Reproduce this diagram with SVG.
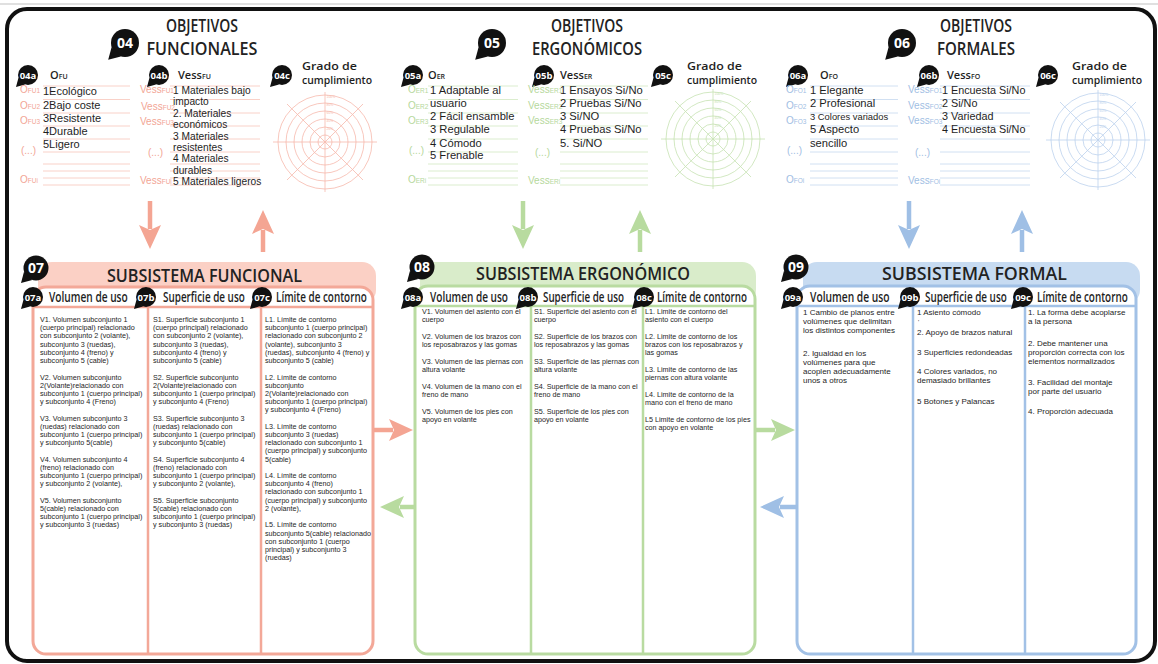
<svg xmlns="http://www.w3.org/2000/svg" width="1158" height="664" viewBox="0 0 1158 664">
<style>
.b{font-family:'Liberation Sans',Arial,sans-serif;fill:#1e1e1e}
.h{font-family:'Open Sans','Liberation Sans',sans-serif;fill:#1e1e1e}
.ti{font-family:'Open Sans','Liberation Sans',sans-serif;font-weight:600;font-size:18px;fill:#222;text-anchor:middle}
.st{font-family:'Open Sans','Liberation Sans',sans-serif;font-weight:600;font-size:18.5px;fill:#222;text-anchor:middle}
.ch{font-family:'Open Sans','Liberation Sans',sans-serif;font-weight:600;font-size:13.5px;fill:#1e1e1e}
.bt{font-family:'Open Sans','Liberation Sans',sans-serif;font-weight:700;fill:#fff;text-anchor:middle}
.sm{font-size:9.5px}
.lg{font-size:14px}
.it{font-size:11.2px}
.c7{font-size:7.2px}
.c8{font-size:8px}
.cp{fill:#f2a595}.cg{fill:#b5d89c}.cb{fill:#9fbee3}
.lp{stroke:#f7c5ba;stroke-width:0.8;fill:none}
.lgr{stroke:#d2e8c2;stroke-width:0.8;fill:none}
.lb{stroke:#c5d8ef;stroke-width:0.8;fill:none}
.lab{font-family:'Liberation Sans',Arial,sans-serif;font-size:10px}
.gr{font-family:'Open Sans','Liberation Sans',sans-serif;font-weight:600;font-size:11.5px;fill:#1e1e1e}
.pct{font-family:'Liberation Sans',Arial,sans-serif;font-size:3.4px}
</style>
<defs>
<g id="bub" fill="#111"><circle r="10"/><path d="M-9.6,3 L-12,12 L-3,9.6 Z"/></g>
<g id="radar" fill="none" stroke="currentColor" stroke-width="0.8">
<circle r="47"/><circle r="39"/><circle r="31"/><circle r="23"/><circle r="15"/><circle r="7"/>
<path d="M-52,0H52M0,-50V50M-38,38L38,-38M-38,-38L38,38"/>
<g stroke="none" fill="currentColor" class="pct"><text x="1.5" y="-44">100%</text><text x="1.5" y="-36">80%</text><text x="1.5" y="-28">60%</text><text x="1.5" y="-20">40%</text><text x="1.5" y="-12">20%</text></g>
</g>
<marker id="ap" markerUnits="userSpaceOnUse" markerWidth="24" markerHeight="22" viewBox="0 0 24 22" refX="4" refY="11" orient="auto"><path d="M0,0L24,11L0,22L5,11Z" fill="#f4a593"/></marker>
<marker id="ag" markerUnits="userSpaceOnUse" markerWidth="24" markerHeight="22" viewBox="0 0 24 22" refX="4" refY="11" orient="auto"><path d="M0,0L24,11L0,22L5,11Z" fill="#b8db9f"/></marker>
<marker id="ab" markerUnits="userSpaceOnUse" markerWidth="24" markerHeight="22" viewBox="0 0 24 22" refX="4" refY="11" orient="auto"><path d="M0,0L24,11L0,22L5,11Z" fill="#9fbfe5"/></marker>
</defs>
<rect width="1158" height="664" fill="#fff"/>
<line x1="0" y1="4" x2="1158" y2="4" stroke="#d6d6d6" stroke-width="1.5"/>
<rect id="frame" x="7" y="9" width="1148" height="652" rx="20" fill="none" stroke="#111" stroke-width="4"/>

<!-- OBJETIVOS FUNCIONALES -->
<g id="obj-funcionales">
<use href="#bub" transform="translate(125,43) scale(1.4)"/>
<text class="bt lg" x="125" y="48">04</text>
<text class="ti" x="202" y="32" textLength="72" lengthAdjust="spacingAndGlyphs">OBJETIVOS</text>
<text class="ti" x="202" y="55" textLength="111" lengthAdjust="spacingAndGlyphs">FUNCIONALES</text>
<use href="#bub" transform="translate(28,75)"/><text class="bt sm" x="28" y="78.5">04a</text>
<text class="h" x="50" y="79" font-size="11" font-weight="600">O<tspan font-size="7">FU</tspan></text>
<use href="#bub" transform="translate(159,75)"/><text class="bt sm" x="159" y="78.5">04b</text>
<text class="h" x="178" y="79" font-size="11" font-weight="600">Vess<tspan font-size="7">FU</tspan></text>
<use href="#bub" transform="translate(282,75)"/><text class="bt sm" x="282" y="78.5">04c</text>
<text class="gr" x="302" y="70" textLength="55" lengthAdjust="spacingAndGlyphs">Grado de</text>
<text class="gr" x="302" y="84" textLength="70" lengthAdjust="spacingAndGlyphs">cumplimiento</text>
<path class="lp" d="M43,86H130M43,99.5H130M43,113H130M43,126H130M43,139H130M43,152H130M43,164H130M43,171H130M43,178H130M43,185H130"/>
<path class="lp" d="M170,86H260M170,99.5H260M170,113H260M170,126H260M170,139H260M170,152H260M170,164H260M170,171H260M170,178H260M170,185H260"/>
<g class="lab cp">
<text x="20" y="93">O<tspan font-size="6.5">FU1</tspan></text>
<text x="20" y="109">O<tspan font-size="6.5">FU2</tspan></text>
<text x="20" y="124">O<tspan font-size="6.5">FU3</tspan></text>
<text x="21" y="154">(...)</text>
<text x="20" y="183">O<tspan font-size="6.5">FUi</tspan></text>
<text x="140" y="93">Vess<tspan font-size="6.5">FU1</tspan></text>
<text x="141" y="110">Vess<tspan font-size="6.5">FU2</tspan></text>
<text x="140" y="125">Vess<tspan font-size="6.5">FU3</tspan></text>
<text x="148" y="156">(...)</text>
<text x="140" y="184">Vess<tspan font-size="6.5">FUi</tspan></text>
</g>
<text class="b" font-size="11"><tspan x="43" y="95">1Ecológico</tspan><tspan x="43" y="108.5">2Bajo coste</tspan><tspan x="43" y="121.5">3Resistente</tspan><tspan x="43" y="135">4Durable</tspan><tspan x="43" y="148">5Ligero</tspan></text>
<text class="b" font-size="10.2"><tspan x="173" y="94">1 Materiales bajo</tspan><tspan x="173" y="105.4">impacto</tspan><tspan x="173" y="116.8">2. Materiales</tspan><tspan x="173" y="128.2">económicos</tspan><tspan x="173" y="139.6">3 Materiales</tspan><tspan x="173" y="151">resistentes</tspan><tspan x="173" y="162.4">4 Materiales</tspan><tspan x="173" y="173.8">durables</tspan><tspan x="173" y="185.2">5 Materiales ligeros</tspan></text>
<use href="#radar" transform="translate(325,142)" color="#f6b9ac"/>
</g>

<!-- OBJETIVOS ERGONOMICOS -->
<g id="obj-ergonomicos">
<use href="#bub" transform="translate(492,43) scale(1.4)"/>
<text class="bt lg" x="492" y="48">05</text>
<text class="ti" x="587" y="32" textLength="72" lengthAdjust="spacingAndGlyphs">OBJETIVOS</text>
<text class="ti" x="587" y="55" textLength="110" lengthAdjust="spacingAndGlyphs">ERGONÓMICOS</text>
<use href="#bub" transform="translate(413,75)"/><text class="bt sm" x="413" y="78.5">05a</text>
<text class="h" x="428" y="79" font-size="11" font-weight="600">O<tspan font-size="7">ER</tspan></text>
<use href="#bub" transform="translate(544,75)"/><text class="bt sm" x="544" y="78.5">05b</text>
<text class="h" x="560" y="79" font-size="11" font-weight="600">Vess<tspan font-size="7">ER</tspan></text>
<use href="#bub" transform="translate(663,75)"/><text class="bt sm" x="663" y="78.5">05c</text>
<text class="gr" x="687" y="70" textLength="55" lengthAdjust="spacingAndGlyphs">Grado de</text>
<text class="gr" x="687" y="84" textLength="70" lengthAdjust="spacingAndGlyphs">cumplimiento</text>
<path class="lgr" d="M428,86H518M428,99.5H518M428,113H518M428,126H518M428,139H518M428,152H518M428,164H518M428,171H518M428,178H518M428,185H518"/>
<path class="lgr" d="M560,86H648M560,99.5H648M560,113H648M560,126H648M560,139H648M560,152H648M560,164H648M560,171H648M560,178H648M560,185H648"/>
<g class="lab cg">
<text x="408" y="93">O<tspan font-size="6.5">ER1</tspan></text>
<text x="408" y="109">O<tspan font-size="6.5">ER2</tspan></text>
<text x="408" y="124">O<tspan font-size="6.5">ER3</tspan></text>
<text x="409" y="154">(...)</text>
<text x="408" y="183">O<tspan font-size="6.5">ERi</tspan></text>
<text x="528" y="93">Vess<tspan font-size="6.5">ER1</tspan></text>
<text x="528" y="109">Vess<tspan font-size="6.5">ER2</tspan></text>
<text x="528" y="124">Vess<tspan font-size="6.5">ER3</tspan></text>
<text x="535" y="156">(...)</text>
<text x="528" y="184">Vess<tspan font-size="6.5">ERi</tspan></text>
</g>
<text class="b it"><tspan x="430" y="94">1 Adaptable al</tspan><tspan x="430" y="107">usuario</tspan><tspan x="430" y="120">2 Fácil ensamble</tspan><tspan x="430" y="133">3 Regulable</tspan><tspan x="430" y="146.5">4 Cómodo</tspan><tspan x="430" y="159">5 Frenable</tspan></text>
<text class="b it"><tspan x="560" y="94">1 Ensayos Si/No</tspan><tspan x="560" y="107">2 Pruebas Si/No</tspan><tspan x="560" y="120">3 Si/NO</tspan><tspan x="560" y="133">4 Pruebas Si/No</tspan><tspan x="560" y="146.5">5. Si/NO</tspan></text>
<use href="#radar" transform="translate(713,139)" color="#c6e2b2"/>
</g>

<!-- OBJETIVOS FORMALES -->
<g id="obj-formales">
<use href="#bub" transform="translate(902,43) scale(1.4)"/>
<text class="bt lg" x="902" y="48">06</text>
<text class="ti" x="976" y="32" textLength="72" lengthAdjust="spacingAndGlyphs">OBJETIVOS</text>
<text class="ti" x="976" y="55" textLength="78" lengthAdjust="spacingAndGlyphs">FORMALES</text>
<use href="#bub" transform="translate(798,75)"/><text class="bt sm" x="798" y="78.5">06a</text>
<text class="h" x="820" y="79" font-size="11" font-weight="600">O<tspan font-size="7">FO</tspan></text>
<use href="#bub" transform="translate(929,75)"/><text class="bt sm" x="929" y="78.5">06b</text>
<text class="h" x="947" y="79" font-size="11" font-weight="600">Vess<tspan font-size="7">FO</tspan></text>
<use href="#bub" transform="translate(1048,75)"/><text class="bt sm" x="1048" y="78.5">06c</text>
<text class="gr" x="1072" y="70" textLength="55" lengthAdjust="spacingAndGlyphs">Grado de</text>
<text class="gr" x="1072" y="84" textLength="70" lengthAdjust="spacingAndGlyphs">cumplimiento</text>
<path class="lb" d="M810,86H898M810,99.5H898M810,113H898M810,126H898M810,139H898M810,152H898M810,164H898M810,171H898M810,178H898M810,185H898"/>
<path class="lb" d="M940,86H1030M940,99.5H1030M940,113H1030M940,126H1030M940,139H1030M940,152H1030M940,164H1030M940,171H1030M940,178H1030M940,185H1030"/>
<g class="lab cb">
<text x="786" y="93">O<tspan font-size="6.5">FO1</tspan></text>
<text x="786" y="109">O<tspan font-size="6.5">FO2</tspan></text>
<text x="786" y="124">O<tspan font-size="6.5">FO3</tspan></text>
<text x="787" y="154">(...)</text>
<text x="786" y="183">O<tspan font-size="6.5">FOi</tspan></text>
<text x="908" y="93">Vess<tspan font-size="6.5">FO1</tspan></text>
<text x="908" y="109">Vess<tspan font-size="6.5">FO2</tspan></text>
<text x="908" y="124">Vess<tspan font-size="6.5">FO3</tspan></text>
<text x="915" y="156">(...)</text>
<text x="908" y="184">Vess<tspan font-size="6.5">FOi</tspan></text>
</g>
<text class="b it"><tspan x="810" y="94">1 Elegante</tspan><tspan x="810" y="107">2 Profesional</tspan><tspan x="810" y="120" font-size="9.4">3 Colores variados</tspan><tspan x="810" y="133">5 Aspecto</tspan><tspan x="810" y="146.5">sencillo</tspan></text>
<text class="b" font-size="10.8"><tspan x="942" y="94">1 Encuesta Si/No</tspan><tspan x="942" y="107">2 Si/No</tspan><tspan x="942" y="120">3 Variedad</tspan><tspan x="942" y="133">4 Encuesta Si/No</tspan></text>
<use href="#radar" transform="translate(1098,140)" color="#bcd2ee"/>
</g>

<!-- SUBSISTEMA FUNCIONAL -->
<g id="sub-funcional">
<rect x="38" y="262" width="338" height="42" rx="14" fill="#fbd0c5"/>
<rect x="33" y="287" width="340" height="367" rx="13" fill="#fff" stroke="#f3a898" stroke-width="3"/>
<path d="M33,307H373M148,287V654M261,287V654" stroke="#f3a898" stroke-width="2.5" fill="none"/>
<use href="#bub" transform="translate(36,268) scale(1.25)"/><text class="bt lg" x="36" y="273">07</text>
<text class="st" x="204.5" y="282" textLength="195" lengthAdjust="spacingAndGlyphs">SUBSISTEMA FUNCIONAL</text>
<use href="#bub" transform="translate(33,297)"/><text class="bt sm" x="33" y="300.5">07a</text>
<use href="#bub" transform="translate(146,297)"/><text class="bt sm" x="146" y="300.5">07b</text>
<use href="#bub" transform="translate(262,297)"/><text class="bt sm" x="262" y="300.5">07c</text>
<text class="ch" transform="translate(49,302) scale(0.75,1)" textLength="105" lengthAdjust="spacingAndGlyphs">Volumen de uso</text>
<text class="ch" transform="translate(163,302) scale(0.75,1)" textLength="109" lengthAdjust="spacingAndGlyphs">Superficie de uso</text>
<text class="ch" transform="translate(276,302) scale(0.75,1)" textLength="121" lengthAdjust="spacingAndGlyphs">Límite de contorno</text>
<text class="b c7"><tspan x="40" y="322">V1. Volumen subconjunto 1</tspan><tspan x="40" dy="8.2">(cuerpo principal) relacionado</tspan><tspan x="40" dy="8.2">con subconjunto 2 (volante),</tspan><tspan x="40" dy="8.2">subconjunto 3 (ruedas),</tspan><tspan x="40" dy="8.2">subconjunto 4 (freno) y</tspan><tspan x="40" dy="8.2">subconjunto 5 (cable)</tspan><tspan x="40" dy="16.5">V2. Volumen subconjunto</tspan><tspan x="40" dy="8.2">2(Volante)relacionado con</tspan><tspan x="40" dy="8.2">subconjunto 1 (cuerpo principal)</tspan><tspan x="40" dy="8.2">y subconjunto 4 (Freno)</tspan><tspan x="40" dy="16.5">V3. Volumen subconjunto 3</tspan><tspan x="40" dy="8.2">(ruedas) relacionado con</tspan><tspan x="40" dy="8.2">subconjunto 1 (cuerpo principal)</tspan><tspan x="40" dy="8.2">y subconjunto 5(cable)</tspan><tspan x="40" dy="16.5">V4. Volumen subconjunto 4</tspan><tspan x="40" dy="8.2">(freno) relacionado con</tspan><tspan x="40" dy="8.2">subconjunto 1 (cuerpo principal)</tspan><tspan x="40" dy="8.2">y subconjunto 2 (volante),</tspan><tspan x="40" dy="16.5">V5. Volumen subconjunto</tspan><tspan x="40" dy="8.2">5(cable) relacionado con</tspan><tspan x="40" dy="8.2">subconjunto 1 (cuerpo principal)</tspan><tspan x="40" dy="8.2">y subconjunto 3 (ruedas)</tspan></text>
<text class="b c7"><tspan x="153" y="322">S1. Superficie subconjunto 1</tspan><tspan x="153" dy="8.2">(cuerpo principal) relacionado</tspan><tspan x="153" dy="8.2">con subconjunto 2 (volante),</tspan><tspan x="153" dy="8.2">subconjunto 3 (ruedas),</tspan><tspan x="153" dy="8.2">subconjunto 4 (freno) y</tspan><tspan x="153" dy="8.2">subconjunto 5 (cable)</tspan><tspan x="153" dy="16.5">S2. Superficie subconjunto</tspan><tspan x="153" dy="8.2">2(Volante)relacionado con</tspan><tspan x="153" dy="8.2">subconjunto 1 (cuerpo principal)</tspan><tspan x="153" dy="8.2">y subconjunto 4 (Freno)</tspan><tspan x="153" dy="16.5">S3. Superficie subconjunto 3</tspan><tspan x="153" dy="8.2">(ruedas) relacionado con</tspan><tspan x="153" dy="8.2">subconjunto 1 (cuerpo principal)</tspan><tspan x="153" dy="8.2">y subconjunto 5(cable)</tspan><tspan x="153" dy="16.5">S4. Superficie subconjunto 4</tspan><tspan x="153" dy="8.2">(freno) relacionado con</tspan><tspan x="153" dy="8.2">subconjunto 1 (cuerpo principal)</tspan><tspan x="153" dy="8.2">y subconjunto 2 (volante),</tspan><tspan x="153" dy="16.5">S5. Superficie subconjunto</tspan><tspan x="153" dy="8.2">5(cable) relacionado con</tspan><tspan x="153" dy="8.2">subconjunto 1 (cuerpo principal)</tspan><tspan x="153" dy="8.2">y subconjunto 3 (ruedas)</tspan></text>
<text class="b c7"><tspan x="265" y="322">L1. Límite de contorno</tspan><tspan x="265" dy="8.2">subconjunto 1 (cuerpo principal)</tspan><tspan x="265" dy="8.2">relacionado con subconjunto 2</tspan><tspan x="265" dy="8.2">(volante), subconjunto 3</tspan><tspan x="265" dy="8.2">(ruedas), subconjunto 4 (freno) y</tspan><tspan x="265" dy="8.2">subconjunto 5 (cable)</tspan><tspan x="265" dy="16.5">L2. Límite de contorno</tspan><tspan x="265" dy="8.2">subconjunto</tspan><tspan x="265" dy="8.2">2(Volante)relacionado con</tspan><tspan x="265" dy="8.2">subconjunto 1 (cuerpo principal)</tspan><tspan x="265" dy="8.2">y subconjunto 4 (Freno)</tspan><tspan x="265" dy="16.5">L3. Límite de contorno</tspan><tspan x="265" dy="8.2">subconjunto 3 (ruedas)</tspan><tspan x="265" dy="8.2">relacionado con subconjunto 1</tspan><tspan x="265" dy="8.2">(cuerpo principal) y subconjunto</tspan><tspan x="265" dy="8.2">5(cable)</tspan><tspan x="265" dy="16.5">L4. Límite de contorno</tspan><tspan x="265" dy="8.2">subconjunto 4 (freno)</tspan><tspan x="265" dy="8.2">relacionado con subconjunto 1</tspan><tspan x="265" dy="8.2">(cuerpo principal) y subconjunto</tspan><tspan x="265" dy="8.2">2 (volante),</tspan><tspan x="265" dy="16.5">L5. Límite de contorno</tspan><tspan x="265" dy="8.2">subconjunto 5(cable) relacionado</tspan><tspan x="265" dy="8.2">con subconjunto 1 (cuerpo</tspan><tspan x="265" dy="8.2">principal) y subconjunto 3</tspan><tspan x="265" dy="8.2">(ruedas)</tspan></text>
</g>

<!-- SUBSISTEMA ERGONOMICO -->
<g id="sub-ergonomico">
<rect x="420" y="262" width="336" height="42" rx="14" fill="#d9ecca"/>
<rect x="415" y="286" width="340" height="368" rx="13" fill="#fff" stroke="#b9dba1" stroke-width="3"/>
<path d="M415,306H755M531,286V654M643,286V654" stroke="#b9dba1" stroke-width="2.5" fill="none"/>
<use href="#bub" transform="translate(422,267) scale(1.25)"/><text class="bt lg" x="422" y="272">08</text>
<text class="st" x="583" y="280" textLength="214" lengthAdjust="spacingAndGlyphs">SUBSISTEMA ERGONÓMICO</text>
<use href="#bub" transform="translate(413,297)"/><text class="bt sm" x="413" y="300.5">08a</text>
<use href="#bub" transform="translate(528,297)"/><text class="bt sm" x="528" y="300.5">08b</text>
<use href="#bub" transform="translate(644,297)"/><text class="bt sm" x="644" y="300.5">08c</text>
<text class="ch" transform="translate(430,302) scale(0.75,1)" textLength="104" lengthAdjust="spacingAndGlyphs">Volumen de uso</text>
<text class="ch" transform="translate(543,302) scale(0.75,1)" textLength="108" lengthAdjust="spacingAndGlyphs">Superficie de uso</text>
<text class="ch" transform="translate(657,302) scale(0.75,1)" textLength="120" lengthAdjust="spacingAndGlyphs">Límite de contorno</text>
<text class="b c7"><tspan x="422" y="313.5">V1. Volumen del asiento con el</tspan><tspan x="422" dy="8.3">cuerpo</tspan><tspan x="422" dy="16.7">V2. Volumen de los brazos con</tspan><tspan x="422" dy="8.3">los reposabrazos y las gomas</tspan><tspan x="422" dy="16.7">V3. Volumen de las piernas con</tspan><tspan x="422" dy="8.3">altura volante</tspan><tspan x="422" dy="16.7">V4. Volumen de la mano con el</tspan><tspan x="422" dy="8.3">freno de mano</tspan><tspan x="422" dy="16.7">V5. Volumen de los pies con</tspan><tspan x="422" dy="8.3">apoyo en volante</tspan></text>
<text class="b c7"><tspan x="534" y="313.5">S1. Superficie del asiento con el</tspan><tspan x="534" dy="8.3">cuerpo</tspan><tspan x="534" dy="16.7">S2. Superficie de los brazos con</tspan><tspan x="534" dy="8.3">los reposabrazos y las gomas</tspan><tspan x="534" dy="16.7">S3. Superficie de las piernas con</tspan><tspan x="534" dy="8.3">altura volante</tspan><tspan x="534" dy="16.7">S4. Superficie de la mano con el</tspan><tspan x="534" dy="8.3">freno de mano</tspan><tspan x="534" dy="16.7">S5. Superficie de los pies con</tspan><tspan x="534" dy="8.3">apoyo en volante</tspan></text>
<text class="b c7"><tspan x="645" y="313.5">L1. Limite de contorno del</tspan><tspan x="645" dy="8.3">asiento con el cuerpo</tspan><tspan x="645" dy="16.7">L2. Limite de contorno de los</tspan><tspan x="645" dy="8.3">brazos con los reposabrazos y</tspan><tspan x="645" dy="8.3">las gomas</tspan><tspan x="645" dy="16.7">L3. Limite de contorno de las</tspan><tspan x="645" dy="8.3">piernas con altura volante</tspan><tspan x="645" dy="16.7">L4. Limite de contorno de la</tspan><tspan x="645" dy="8.3">mano con el freno de mano</tspan><tspan x="645" dy="16.7">L5 Limite de contorno de los pies</tspan><tspan x="645" dy="8.3">con apoyo en volante</tspan></text>
</g>

<!-- SUBSISTEMA FORMAL -->
<g id="sub-formal">
<rect x="803" y="262" width="337" height="42" rx="14" fill="#c7dbf1"/>
<rect x="797" y="286" width="339" height="368" rx="13" fill="#fff" stroke="#a2c1e6" stroke-width="3"/>
<path d="M797,306H1136M913,286V654M1025,286V654" stroke="#a2c1e6" stroke-width="2.5" fill="none"/>
<use href="#bub" transform="translate(796,267) scale(1.25)"/><text class="bt lg" x="796" y="272">09</text>
<text class="st" x="974.5" y="280" textLength="185" lengthAdjust="spacingAndGlyphs">SUBSISTEMA FORMAL</text>
<use href="#bub" transform="translate(793,297)"/><text class="bt sm" x="793" y="300.5">09a</text>
<use href="#bub" transform="translate(910,297)"/><text class="bt sm" x="910" y="300.5">09b</text>
<use href="#bub" transform="translate(1023,297)"/><text class="bt sm" x="1023" y="300.5">09c</text>
<text class="ch" transform="translate(810,302) scale(0.75,1)" textLength="106" lengthAdjust="spacingAndGlyphs">Volumen de uso</text>
<text class="ch" transform="translate(925,302) scale(0.75,1)" textLength="109" lengthAdjust="spacingAndGlyphs">Superficie de uso</text>
<text class="ch" transform="translate(1037,302) scale(0.75,1)" textLength="121" lengthAdjust="spacingAndGlyphs">Límite de contorno</text>
<text class="b c8"><tspan x="803" y="315">1 Cambio de planos entre</tspan><tspan x="803" dy="9.1">volúmenes que delimitan</tspan><tspan x="803" dy="9.1">los distintos componentes</tspan><tspan x="803" dy="22.8">2. Igualdad en los</tspan><tspan x="803" dy="9.1">volúmenes para que</tspan><tspan x="803" dy="9.1">acoplen adecuadamente</tspan><tspan x="803" dy="9.1">unos a otros</tspan></text>
<text class="b c8"><tspan x="917" y="315">1 Asiento cómodo</tspan><tspan x="917" y="335">2. Apoyo de brazos natural</tspan><tspan x="917" y="355">3 Superficies redondeadas</tspan><tspan x="917" y="374">4 Colores variados, no</tspan><tspan x="917" y="383.1">demasiado brillantes</tspan><tspan x="917" y="404">5 Botones y Palancas</tspan></text>
<text class="b" x="918" y="324" font-size="6">'</text>
<text class="b c8"><tspan x="1028" y="315">1. La forma debe acoplarse</tspan><tspan x="1028" dy="9.1">a la persona</tspan><tspan x="1028" y="346">2. Debe mantener una</tspan><tspan x="1028" dy="9.1">proporción correcta con los</tspan><tspan x="1028" dy="9.1">elementos normalizados</tspan><tspan x="1028" y="385">3. Facilidad del montaje</tspan><tspan x="1028" dy="9.1">por parte del usuario</tspan><tspan x="1028" y="414">4. Proporción adecuada</tspan></text>
</g>

<!-- CONNECTORS -->
<g id="connectors" fill="none" stroke-width="4.5">
<line x1="150" y1="201" x2="150" y2="229" stroke="#f4a593" marker-end="url(#ap)"/>
<line x1="263" y1="252" x2="263" y2="230" stroke="#f4a593" marker-end="url(#ap)"/>
<line x1="523" y1="201" x2="523" y2="229" stroke="#b8db9f" marker-end="url(#ag)"/>
<line x1="640" y1="252" x2="640" y2="230" stroke="#b8db9f" marker-end="url(#ag)"/>
<line x1="909" y1="201" x2="909" y2="229" stroke="#9fbfe5" marker-end="url(#ab)"/>
<line x1="1022" y1="252" x2="1022" y2="230" stroke="#9fbfe5" marker-end="url(#ab)"/>
<line x1="374" y1="430" x2="393" y2="430" stroke="#f4a593" marker-end="url(#ap)"/>
<line x1="416" y1="507" x2="400" y2="507" stroke="#b8db9f" marker-end="url(#ag)"/>
<line x1="756" y1="430" x2="775" y2="430" stroke="#b8db9f" marker-end="url(#ag)"/>
<line x1="798" y1="507" x2="780" y2="507" stroke="#9fbfe5" marker-end="url(#ab)"/>
</g>
</svg>
